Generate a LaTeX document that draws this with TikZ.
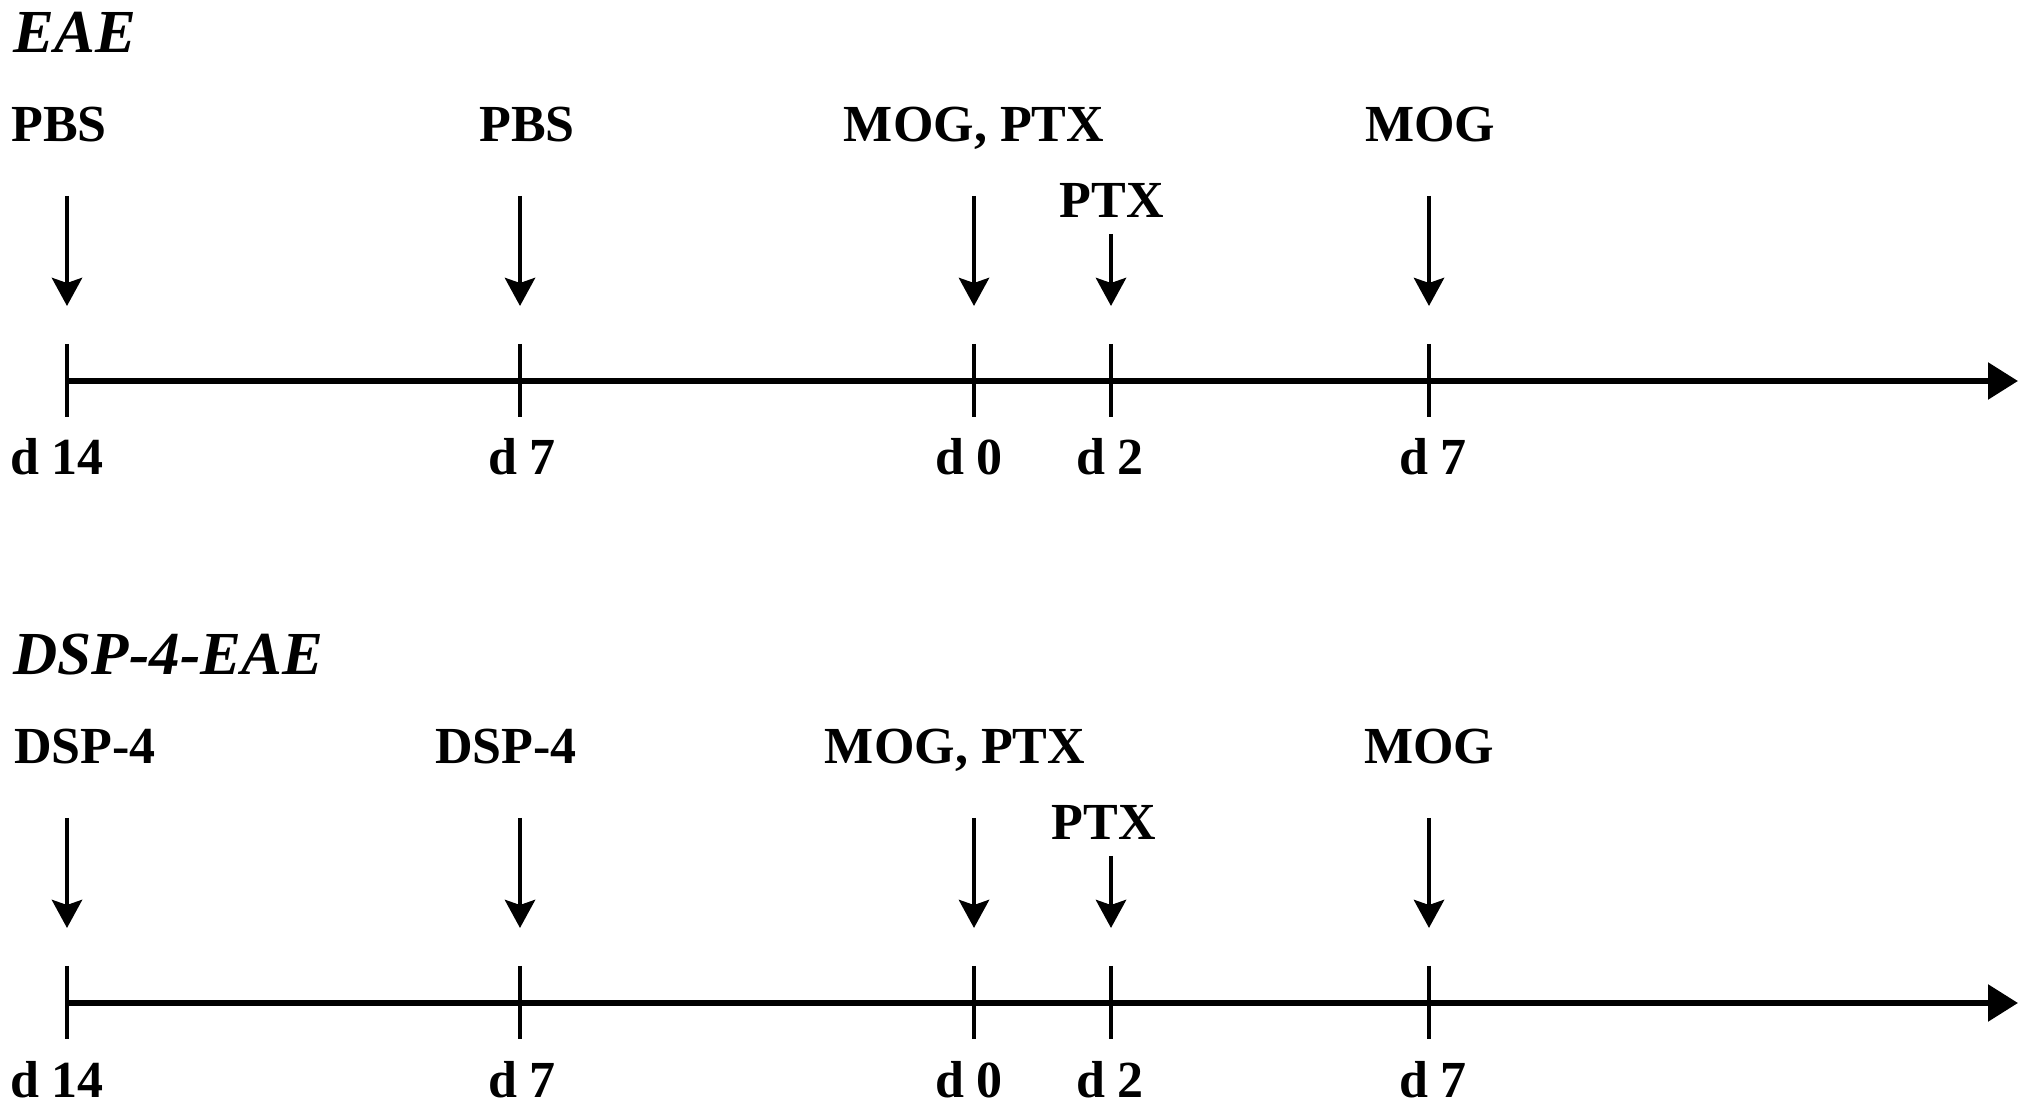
\documentclass[tikz,border=0pt]{standalone}
\usepackage{fontspec}
\setmainfont{Liberation Serif}
\usetikzlibrary{arrows.meta,positioning}

\begin{document}
\begin{tikzpicture}[
 lbl/.style={font=\bfseries\fontsize{14.8}{17}\selectfont,anchor=base,inner sep=0pt},
 ttl/.style={font=\bfseries\itshape\fontsize{17.4}{20}\selectfont,anchor=base west,inner sep=0pt},
 timeline/.style={-{Triangle[length=3mm,width=3.6mm]},line width=1.6pt},
 tickmark/.style={line width=1.4pt},
 arr/.style={-{Stealth[length=2.8mm,width=3mm,inset=0.5mm]},line width=1.4pt}]
 \useasboundingbox (0,0) rectangle (20.31,-11.09);
 % EAE
 \node[ttl] (eae) at (0.13,-0.53) {EAE};
 \coordinate (eM14) at (0.67,-3.81);
 \coordinate (eM7) at (5.20,-3.81);
 \coordinate (e0) at (9.74,-3.81);
 \coordinate (e2) at (11.11,-3.81);
 \coordinate (e7) at (14.29,-3.81);
 \coordinate (eEnd) at (20.18,-3.81);
 \node[lbl] (pbsA) at (0.59,-1.42) {PBS};
 \node[lbl] (pbsB) at (5.27,-1.42) {PBS};
 \node[lbl] (mogptxA) at (9.74,-1.42) {MOG, PTX};
 \node[lbl] (ptxA) at (11.12,-2.18) {PTX};
 \node[lbl] (mogA) at (14.30,-1.42) {MOG};
 \draw[timeline] (eM14)--(eEnd);
 \draw[tickmark] ([yshift=.37cm]eM14)--([yshift=-.36cm]eM14);
 \draw[tickmark] ([yshift=.37cm]eM7)--([yshift=-.36cm]eM7);
 \draw[tickmark] ([yshift=.37cm]e0)--([yshift=-.36cm]e0);
 \draw[tickmark] ([yshift=.37cm]e2)--([yshift=-.36cm]e2);
 \draw[tickmark] ([yshift=.37cm]e7)--([yshift=-.36cm]e7);
 \draw[arr] ([yshift=1.85cm]eM14)--([yshift=.75cm]eM14);
 \draw[arr] ([yshift=1.85cm]eM7)--([yshift=.75cm]eM7);
 \draw[arr] ([yshift=1.85cm]e0)--([yshift=.75cm]e0);
 \draw[arr] ([yshift=1.47cm]e2)--([yshift=.75cm]e2);
 \draw[arr] ([yshift=1.85cm]e7)--([yshift=.75cm]e7);
 \node[lbl] (eL14) at (0.57,-4.75) {d 14};
 \node[lbl] (eLm7) at (5.22,-4.75) {d 7};
 \node[lbl] (eL0) at (9.69,-4.75) {d 0};
 \node[lbl] (eL2) at (11.10,-4.75) {d 2};
 \node[lbl] (eL7) at (14.33,-4.75) {d 7};
 % DSP-4-EAE
 \node[ttl] (dsp) at (0.13,-6.75) {DSP-4-EAE};
 \coordinate (sM14) at (0.67,-10.03);
 \coordinate (sM7) at (5.20,-10.03);
 \coordinate (s0) at (9.74,-10.03);
 \coordinate (s2) at (11.11,-10.03);
 \coordinate (s7) at (14.29,-10.03);
 \coordinate (sEnd) at (20.18,-10.03);
 \node[lbl] (dspA) at (0.85,-7.64) {DSP-4};
 \node[lbl] (dspB) at (5.06,-7.64) {DSP-4};
 \node[lbl] (mogptxB) at (9.55,-7.64) {MOG, PTX};
 \node[lbl] (ptxB) at (11.04,-8.40) {PTX};
 \node[lbl] (mogB) at (14.29,-7.64) {MOG};
 \draw[timeline] (sM14)--(sEnd);
 \draw[tickmark] ([yshift=.37cm]sM14)--([yshift=-.36cm]sM14);
 \draw[tickmark] ([yshift=.37cm]sM7)--([yshift=-.36cm]sM7);
 \draw[tickmark] ([yshift=.37cm]s0)--([yshift=-.36cm]s0);
 \draw[tickmark] ([yshift=.37cm]s2)--([yshift=-.36cm]s2);
 \draw[tickmark] ([yshift=.37cm]s7)--([yshift=-.36cm]s7);
 \draw[arr] ([yshift=1.85cm]sM14)--([yshift=.75cm]sM14);
 \draw[arr] ([yshift=1.85cm]sM7)--([yshift=.75cm]sM7);
 \draw[arr] ([yshift=1.85cm]s0)--([yshift=.75cm]s0);
 \draw[arr] ([yshift=1.47cm]s2)--([yshift=.75cm]s2);
 \draw[arr] ([yshift=1.85cm]s7)--([yshift=.75cm]s7);
 \node[lbl] (sL14) at (0.57,-10.97) {d 14};
 \node[lbl] (sLm7) at (5.22,-10.97) {d 7};
 \node[lbl] (sL0) at (9.69,-10.97) {d 0};
 \node[lbl] (sL2) at (11.10,-10.97) {d 2};
 \node[lbl] (sL7) at (14.33,-10.97) {d 7};
\end{tikzpicture}
\end{document}
